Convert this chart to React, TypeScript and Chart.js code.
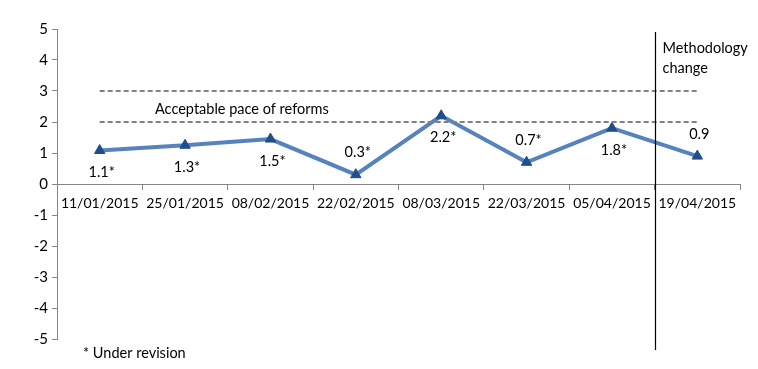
import React, { useEffect, useRef } from "react";
import { Chart, registerables } from "chart.js";

Chart.register(...registerables);

const categories = [
  "11/01/2015",
  "25/01/2015",
  "08/02/2015",
  "22/02/2015",
  "08/03/2015",
  "22/03/2015",
  "05/04/2015",
  "19/04/2015",
];
const values = [1.08, 1.25, 1.45, 0.3, 2.2, 0.7, 1.8, 0.9];
const valueLabels = ["1.1*", "1.3*", "1.5*", "0.3*", "2.2*", "0.7*", "1.8*", "0.9"];
const labelSide = ["below", "below", "below", "above", "below", "above", "below", "above"];
const paceBand = [2, 3];
const paceText = "Acceptable pace of reforms";
const changeText = ["Methodology", "change"];
const changeAfterIndex = 6;
const footnote = "* Under revision";

const FONT = "Lato, 'Open Sans', sans-serif";

const overlayPlugin = {
  id: "overlay",
  afterDatasetsDraw(chart: any) {
    const { ctx, scales, chartArea } = chart;
    const x = scales.x;
    const y = scales.y;
    ctx.save();
    ctx.strokeStyle = "#808080";
    ctx.lineWidth = 2;
    ctx.setLineDash([5, 3]);
    const x0 = x.getPixelForValue(0);
    const x1 = x.getPixelForValue(categories.length - 1);
    paceBand.forEach((v) => {
      const py = Math.round(y.getPixelForValue(v));
      ctx.beginPath();
      ctx.moveTo(x0, py);
      ctx.lineTo(x1, py);
      ctx.stroke();
    });
    ctx.setLineDash([]);
    ctx.fillStyle = "#000";
    ctx.font = `14.5px ${FONT}`;
    ctx.textAlign = "left";
    ctx.textBaseline = "middle";
    const midY = y.getPixelForValue((paceBand[0] + paceBand[1]) / 2) + 3;
    ctx.fillText(paceText, chartArea.left + 98, midY);

    const vx = Math.round((x.getPixelForValue(changeAfterIndex) + x.getPixelForValue(changeAfterIndex + 1)) / 2) + 0.5;
    ctx.strokeStyle = "#000";
    ctx.lineWidth = 1.2;
    ctx.beginPath();
    ctx.moveTo(vx, chartArea.top + 3);
    ctx.lineTo(vx, chartArea.bottom + 11);
    ctx.stroke();
    ctx.textAlign = "left";
    ctx.fillText(changeText[0], vx + 7, chartArea.top + 19);
    ctx.fillText(changeText[1], vx + 7, chartArea.top + 39);

    ctx.textAlign = "center";
    const meta = chart.getDatasetMeta(0);
    meta.data.forEach((pt: any, i: number) => {
      const dy = labelSide[i] === "below" ? 22 : -22;
      ctx.fillText(valueLabels[i], pt.x + 2, pt.y + dy);
    });

    ctx.textAlign = "left";
    ctx.fillText(footnote, chartArea.left + 26, chartArea.bottom + 14);
    ctx.restore();
  },
};

export default function App() {
  const ref = useRef<HTMLCanvasElement | null>(null);
  useEffect(() => {
    document.body.style.margin = "0";
    const canvas = ref.current!;
    const chart = new Chart(canvas, {
      type: "line",
      data: {
        labels: categories,
        datasets: [
          {
            data: values,
            borderColor: "#5682bd",
            borderWidth: 4,
            pointStyle: "triangle",
            pointRadius: 6,
            pointBackgroundColor: "#1f4e8c",
            pointBorderColor: "#1f4e8c",
            pointBorderWidth: 1,
            tension: 0,
          },
        ],
      },
      options: {
        responsive: false,
        animation: false,
        maintainAspectRatio: false,
        layout: { padding: { left: 0, top: 29, right: 18, bottom: 30 } },
        plugins: { legend: { display: false }, tooltip: { enabled: false } },
        scales: {
          x: {
            type: "category",
            offset: true,
            position: { y: 0 } as any,
            grid: {
              display: true,
              drawOnChartArea: false,
              drawTicks: true,
              tickLength: 5,
              color: "#868686",
              offset: true,
            },
            border: { display: true, color: "#868686", width: 1 },
            ticks: {
              color: "#000",
              font: { family: FONT, size: 14 },
              padding: 6,
              maxRotation: 0,
              autoSkip: false,
            },
          },
          y: {
            min: -5,
            max: 5,
            afterFit(scale: any) {
              scale.width = 57;
            },
            grid: {
              display: true,
              drawOnChartArea: false,
              drawTicks: true,
              tickLength: 5,
              color: "#868686",
            },
            border: { display: true, color: "#868686", width: 1 },
            ticks: {
              stepSize: 1,
              color: "#000",
              font: { family: FONT, size: 15 },
              padding: 4,
            },
          },
        },
      },
      plugins: [overlayPlugin],
    });
    return () => chart.destroy();
  }, []);
  return (
    <div style={{ width: 758, height: 369 }}>
      <canvas ref={ref} width={758} height={369} style={{ display: "block" }} />
    </div>
  );
}
